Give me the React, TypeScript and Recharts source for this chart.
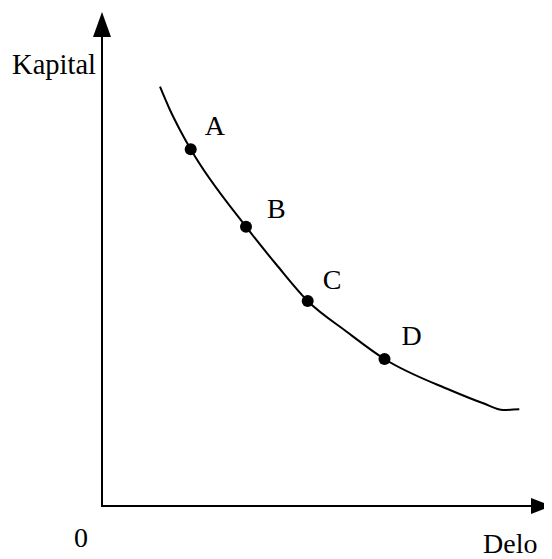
import { ComposedChart, Line, Scatter, XAxis, YAxis, ReferenceDot, ReferenceLine } from 'recharts'

// isoquant curve (labour on x, capital on y)
const curveLabor = [5.8, 6.8, 7.8, 8.87, 14.4, 17.47, 20.57, 24.47, 28.25, 34.8, 38.13, 40.13, 41.73]
const curveCapital = [41.93, 39.6, 37.6, 35.67, 27.93, 24.1, 20.5, 17.43, 14.7, 11.6, 10.27, 9.6, 9.67]

// marked combinations on the curve
const pointNames = ['A', 'B', 'C', 'D']
const pointLabor = [8.87, 14.4, 20.57, 28.25]
const pointCapital = [35.67, 27.93, 20.5, 14.7]

const xMax = 45
const yMax = 49.4

const curveData = curveLabor.map((labor, i) => ({ labor, capital: curveCapital[i] }))
const pointData = pointNames.map((name, i) => ({ name, labor: pointLabor[i], capital: pointCapital[i] }))

const font = '"Liberation Serif", "Times New Roman", serif'

// where each letter sits relative to its dot
const labelOffset: Record<string, [number, number]> = {
  A: [14, -14],
  B: [21, -9],
  C: [15, -12],
  D: [17, -14],
}

const PointShape = (props: any) => {
  const { cx, cy, payload } = props
  const [dx, dy] = labelOffset[payload.name]
  return (
    <g>
      <circle cx={cx} cy={cy} r={6} fill='#000' />
      <text x={cx + dx} y={cy + dy} fontFamily={font} fontSize={28} fill='#000'>
        {payload.name}
      </text>
    </g>
  )
}

const UpArrow = (props: any) => {
  const { cx, cy } = props
  return <polygon points={`${cx},${cy} ${cx - 9},${cy + 25} ${cx + 9},${cy + 25}`} fill='#000' />
}

const RightArrow = (props: any) => {
  const { cx, cy } = props
  return <polygon points={`${cx},${cy} ${cx - 21},${cy - 8} ${cx - 21},${cy + 8}`} fill='#000' />
}

export default function App() {
  return (
    <ComposedChart width={544} height={551} margin={{ top: 4, right: 0, bottom: 53, left: 94 }}>
      <XAxis type='number' dataKey='labor' domain={[0, xMax]} allowDataOverflow hide />
      <YAxis type='number' dataKey='capital' domain={[0, yMax]} allowDataOverflow hide />
      <ReferenceLine
        segment={[{ x: 0, y: 0 }, { x: 0, y: yMax - 2 }]}
        stroke='#000'
        strokeWidth={2}
        ifOverflow='visible'
      />
      <ReferenceLine
        segment={[{ x: -0.1, y: 0 }, { x: xMax - 1.5, y: 0 }]}
        stroke='#000'
        strokeWidth={2}
        ifOverflow='visible'
      />
      <Line
        data={curveData}
        dataKey='capital'
        type='monotone'
        stroke='#000'
        strokeWidth={2}
        dot={false}
        activeDot={false}
        isAnimationActive={false}
      />
      <Scatter data={pointData} dataKey='capital' shape={PointShape} isAnimationActive={false} />
      <ReferenceDot x={0} y={yMax} ifOverflow='visible' shape={UpArrow} />
      <ReferenceDot x={xMax} y={0} ifOverflow='visible' shape={RightArrow} />
      <text x={88} y={66} textAnchor='end' fontFamily={font} fontSize={28.5} fill='#000'>
        Kapital
      </text>
      <text x={66} y={539} fontFamily={font} fontSize={28} fill='#000'>
        0
      </text>
      <text x={475} y={545} fontFamily={font} fontSize={28} fill='#000'>
        Delo
      </text>
    </ComposedChart>
  )
}
